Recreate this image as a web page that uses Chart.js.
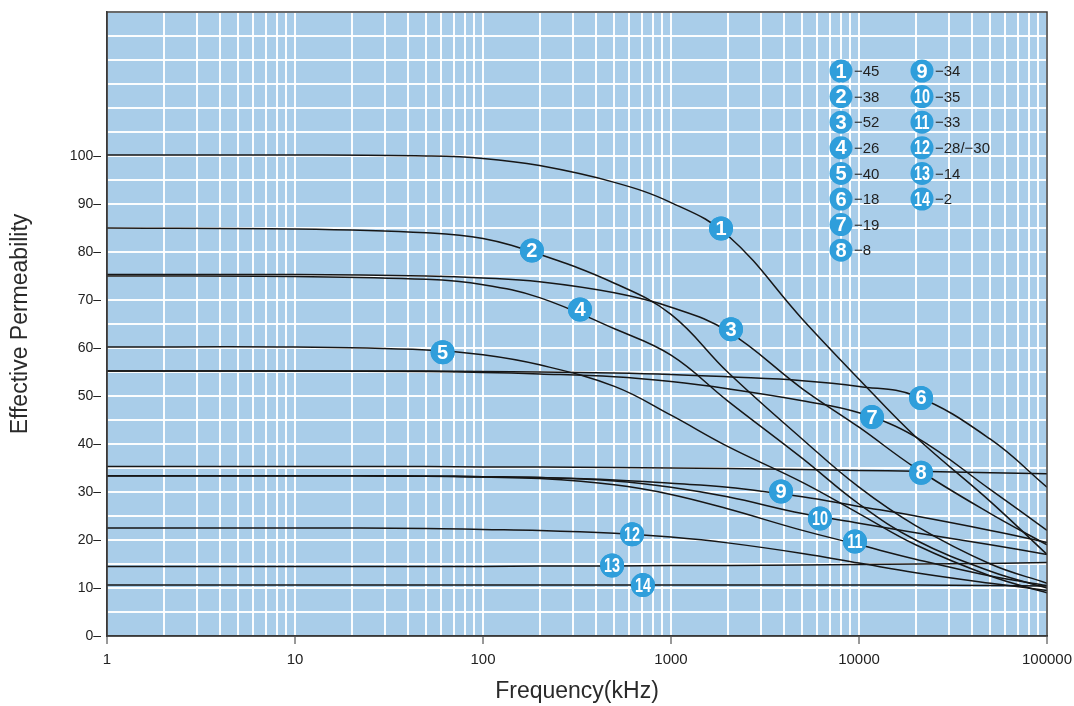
<!DOCTYPE html>
<html>
<head>
<meta charset="utf-8">
<title>Effective Permeability vs Frequency</title>
<script src="https://cdn.jsdelivr.net/npm/chart.js@4.4.1/dist/chart.umd.min.js"></script>
<style>
  html, body { margin: 0; padding: 0; background: #fff; }
  #wrap { width: 1074px; height: 706px; position: relative; }
</style>
</head>
<body>
<div id="wrap"><canvas id="permChart"></canvas></div>
<script>
// frequency points (kHz) shared by all curves
const freqs = [1, 10, 50, 100, 200, 500, 1000, 2000, 5000, 10000, 20000, 50000, 100000];

// effective permeability, one array per material
const mix45 = [100.2, 100.2, 100, 99.5, 98, 94.5, 90.3, 83.5, 66, 53.5, 41.5, 28, 17];
const mix38 = [85, 84.8, 84, 82.8, 79.5, 73.5, 67, 55, 41, 31, 23, 15, 11];
const mix52 = [75.3, 75.3, 75, 74.6, 73.8, 71.5, 68.5, 63.5, 51.5, 43.5, 35, 25.5, 19];
const mix26 = [75, 74.9, 74.3, 73.2, 70.5, 64, 58.5, 49, 37, 27.5, 20, 13.5, 10];
const mix40 = [60.2, 60.2, 59.6, 58.6, 56.5, 52, 46, 39.5, 32, 25.5, 19, 12.5, 9];
const mix18 = [55.2, 55.2, 55.2, 55.1, 55, 54.8, 54.5, 54, 53.2, 52, 50, 41, 31];
const mix19 = [55.2, 55.2, 55.1, 54.9, 54.6, 54, 53, 51.5, 49, 46.5, 41.5, 30.5, 22];
const mix8  = [35.3, 35.3, 35.3, 35.2, 35.2, 35.1, 35, 34.9, 34.7, 34.5, 34.3, 34, 33.8];
const mix34 = [33.4, 33.4, 33.3, 33.2, 33, 32.5, 31.8, 31, 29, 27, 25, 22, 19.5];
const mix35 = [33.4, 33.4, 33.3, 33.2, 33, 32.3, 31, 29, 25.5, 23.5, 21.5, 19, 17];
const mix33 = [33.4, 33.4, 33.3, 33.1, 32.8, 31.5, 29.5, 26.5, 22, 19, 16, 12.5, 10.5];
const mix28 = [22.5, 22.5, 22.4, 22.2, 22, 21.4, 20.6, 19.4, 17.2, 15.2, 13.2, 11, 9.5];
const mix14 = [14.5, 14.5, 14.5, 14.5, 14.6, 14.6, 14.7, 14.7, 14.8, 14.9, 15, 15.1, 15.3];
const mix2  = [10.6, 10.6, 10.6, 10.6, 10.6, 10.6, 10.6, 10.6, 10.6, 10.6, 10.6, 10.5, 10.4];

const curves = [mix45, mix38, mix52, mix26, mix40, mix18, mix19, mix8, mix34, mix35, mix33, mix28, mix14, mix2];

// numbered markers sitting on the curves
const markerIds    = ['1', '2', '3', '4', '5', '6', '7', '8', '9', '10', '11', '12', '13', '14'];
const markerFreqs  = [1845, 182, 2084, 328, 61, 21380, 11720, 21380, 3850, 6200, 9520, 621, 486, 709];
const markerValues = [84.9, 80.3, 63.9, 68, 59.1, 49.6, 45.6, 34, 30.1, 24.5, 19.7, 21.2, 14.7, 10.6];

// key in the upper right
const legendMixes = ['\u221245', '\u221238', '\u221252', '\u221226', '\u221240', '\u221218', '\u221219', '\u22128',
                     '\u221234', '\u221235', '\u221233', '\u221228/\u221230', '\u221214', '\u22122'];

const xTickLabels = [1, 10, 100, 1000, 10000, 100000];
const yTickLabels = [0, 10, 20, 30, 40, 50, 60, 70, 80, 90, 100];

const BLUE = '#2f9edb';
const FONT = '"Liberation Sans", Arial, sans-serif';

function drawBadge(ctx, x, y, txt, r) {
    ctx.beginPath();
    ctx.arc(x, y, r, 0, Math.PI * 2);
    ctx.fillStyle = BLUE;
    ctx.fill();
    ctx.save();
    ctx.translate(x, y + 1);
    if (txt.length > 1) ctx.scale(0.72, 1);
    ctx.fillStyle = '#fff';
    ctx.font = 'bold 20px ' + FONT;
    ctx.textAlign = 'center';
    ctx.textBaseline = 'middle';
    ctx.fillText(txt, 0, 0);
    ctx.restore();
}

const panelPlugin = {
    id: 'panel',
    beforeDraw(chart) {
        const { ctx, chartArea: a } = chart;
        ctx.save();
        ctx.fillStyle = '#a9cde9';
        ctx.fillRect(a.left, a.top, a.right - a.left, a.bottom - a.top);
        ctx.restore();
    },
    afterDatasetsDraw(chart) {
        const { ctx, chartArea: a } = chart;
        // numbers inside the curve markers
        const meta = chart.getDatasetMeta(curves.length);
        meta.data.forEach((pt, i) => drawBadge(ctx, pt.x, pt.y, markerIds[i], 12));

        // key
        ctx.save();
        legendMixes.forEach((txt, i) => {
            const col = i < 8 ? 0 : 1;
            const row = i < 8 ? i : i - 8;
            const cx = a.left + 734 + col * 81;
            const cy = a.top + 59 + row * 25.6;
            drawBadge(ctx, cx, cy, String(i + 1), 11.5);
            ctx.fillStyle = '#222';
            ctx.font = '15px ' + FONT;
            ctx.textAlign = 'left';
            ctx.textBaseline = 'middle';
            ctx.fillText(txt, cx + 13, cy + 1);
        });
        ctx.restore();
    },
    afterDraw(chart) {
        const { ctx, chartArea: a } = chart;
        ctx.save();
        ctx.strokeStyle = '#3a3a3a';
        ctx.lineWidth = 1.5;
        ctx.strokeRect(a.left, a.top, a.right - a.left, a.bottom - a.top);
        ctx.restore();
    }
};

const datasets = curves.map((vals, k) => ({
    label: legendMixes[k],
    data: freqs.map((f, i) => ({ x: f, y: vals[i] })),
    borderColor: '#161616',
    borderWidth: 1.5,
    pointRadius: 0,
    fill: false,
    tension: 0.4
}));

datasets.push({
    label: 'markers',
    data: markerFreqs.map((f, i) => ({ x: f, y: markerValues[i] })),
    showLine: false,
    pointRadius: 12,
    pointBackgroundColor: BLUE,
    pointBorderWidth: 0
});

new Chart(document.getElementById('permChart'), {
    type: 'line',
    data: { datasets },
    plugins: [panelPlugin],
    options: {
        responsive: true,
        maintainAspectRatio: false,
        animation: false,
        layout: { padding: { top: 11, right: 27, left: 0, bottom: 0 } },
        plugins: { legend: { display: false }, tooltip: { enabled: false } },
        scales: {
            x: {
                type: 'logarithmic',
                min: 1,
                max: 100000,
                afterBuildTicks: (axis) => {
                    const t = [];
                    for (let e = 0; e < 5; e++) {
                        for (let m = 1; m < 10; m++) t.push({ value: m * Math.pow(10, e) });
                    }
                    t.push({ value: 100000 });
                    axis.ticks = t;
                },
                afterFit: (scale) => {
                    scale.height = 70;
                    scale.paddingLeft = 0;
                    scale.paddingRight = 0;
                },
                grid: {
                    color: 'rgba(255,255,255,0.95)',
                    lineWidth: 2,
                    tickLength: 8,
                    tickWidth: 1,
                    tickColor: ctx => (ctx.tick && xTickLabels.includes(ctx.tick.value)) ? '#333' : 'rgba(0,0,0,0)'
                },
                border: { color: '#3a3a3a', width: 1.5 },
                ticks: {
                    autoSkip: false,
                    maxRotation: 0,
                    padding: 7,
                    color: '#222',
                    font: { family: FONT, size: 15 },
                    callback: v => xTickLabels.includes(v) ? String(v) : ''
                },
                title: {
                    display: true,
                    text: 'Frequency(kHz)',
                    color: '#2a2a2a',
                    font: { family: FONT, size: 23 },
                    padding: { top: 0, bottom: 1 }
                }
            },
            y: {
                min: 0,
                max: 130,
                afterFit: (scale) => {
                    scale.width = 107;
                    scale.paddingTop = 0;
                    scale.paddingBottom = 0;
                },
                grid: {
                    color: 'rgba(255,255,255,0.95)',
                    lineWidth: 2,
                    drawTicks: false
                },
                border: { color: '#3a3a3a', width: 1.5 },
                ticks: {
                    stepSize: 5,
                    autoSkip: false,
                    padding: 6,
                    color: '#222',
                    font: { family: FONT, size: 14 },
                    callback: v => yTickLabels.includes(v) ? v + '\u2013' : ''
                },
                title: {
                    display: true,
                    text: 'Effective Permeability',
                    color: '#2a2a2a',
                    font: { family: FONT, size: 23 },
                    padding: { top: 7, bottom: 0 }
                }
            }
        }
    }
});
</script>
</body>
</html>
